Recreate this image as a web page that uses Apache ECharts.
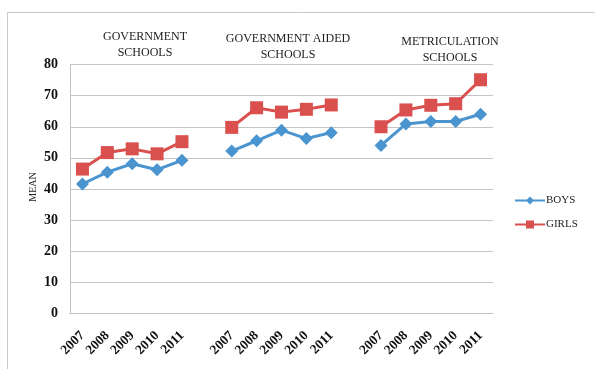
<!DOCTYPE html>
<html>
<head>
<meta charset="utf-8">
<script src="https://cdn.jsdelivr.net/npm/echarts@6/dist/echarts.min.js"></script>
<style>
  html, body { margin: 0; padding: 0; background: #fff; }
  #chart { width: 595px; height: 369px; }
</style>
</head>
<body>
<div id="chart"></div>
<script>
// School groups and years shown under each group
const groups = ['GOVERNMENT\nSCHOOLS', 'GOVERNMENT AIDED\nSCHOOLS', 'METRICULATION\nSCHOOLS'];
const years = ['2007', '2008', '2009', '2010', '2011'];
const yAxisTitle = 'MEAN';

// Mean scores per group, 2007-2011
const boysGov = [41.6, 45.4, 48.1, 46.2, 49.2];
const girlsGov = [46.4, 51.7, 52.9, 51.3, 55.2];
const boysAided = [52.2, 55.5, 58.9, 56.2, 58.1];
const girlsAided = [59.8, 66.1, 64.7, 65.6, 67.0];
const boysMetric = [54.0, 60.9, 61.7, 61.7, 64.0];
const girlsMetric = [60.0, 65.4, 66.9, 67.4, 75.1];

const yTicks = [0, 10, 20, 30, 40, 50, 60, 70, 80];

// Build one continuous category axis with an empty slot between groups
const categories = [];
function joinGroups(parts) {
  const out = [];
  parts.forEach((p, i) => {
    if (i > 0) out.push(null);
    p.forEach(v => out.push(v));
  });
  return out;
}
groups.forEach((g, i) => {
  if (i > 0) categories.push('');
  years.forEach(y => categories.push(y));
});
const boys = joinGroups([boysGov, boysAided, boysMetric]);
const girls = joinGroups([girlsGov, girlsAided, girlsMetric]);

const BLUE = '#4a94d0';
const RED = '#d9504e';
const SERIF = '"Liberation Serif", "DejaVu Serif", serif';

const chart = echarts.init(document.getElementById('chart'), null, { renderer: 'canvas' });
chart.setOption({
  backgroundColor: '#fff',
  animation: false,
  title: [
    { text: groups[0], left: 145, top: 29, textAlign: 'center' },
    { text: groups[1], left: 288, top: 31, textAlign: 'center' },
    { text: groups[2], left: 450, top: 33.5, textAlign: 'center' }
  ].map(t => Object.assign(t, {
    padding: 0,
    textStyle: { fontFamily: SERIF, fontSize: 12, fontWeight: 'normal', color: '#222', lineHeight: 16 }
  })),
  graphic: [
    {
      type: 'rect',
      shape: { x: 7.5, y: 12.5, width: 600, height: 370 },
      style: { fill: 'none', stroke: '#c8c8c8', lineWidth: 1 },
      silent: true
    },
    {
      // vertical axis title
      type: 'text',
      x: 33,
      y: 187,
      rotation: Math.PI / 2,
      style: {
        text: yAxisTitle,
        font: '10px ' + SERIF,
        fill: '#222',
        align: 'center',
        verticalAlign: 'middle'
      },
      silent: true
    }
  ],
  legend: {
    orient: 'vertical',
    left: 509,
    top: 190,
    itemWidth: 30,
    itemHeight: 10,
    itemGap: 13,
    textStyle: { fontFamily: SERIF, fontSize: 11, color: '#222', padding: [0, 0, 0, -4] },
    data: ['BOYS', 'GIRLS']
  },
  grid: { left: 70, right: 102, top: 64.5, bottom: 55.5 },
  xAxis: {
    type: 'category',
    data: categories,
    boundaryGap: true,
    axisLine: { lineStyle: { color: '#c0c0c0' } },
    axisTick: { show: false },
    axisLabel: {
      interval: 0,
      rotate: 45,
      margin: 20,
      fontFamily: SERIF,
      fontSize: 13.5,
      fontWeight: 'bold',
      color: '#111'
    }
  },
  yAxis: {
    type: 'value',
    min: yTicks[0],
    max: yTicks[yTicks.length - 1],
    interval: 10,
    axisLine: { show: true, lineStyle: { color: '#c0c0c0' } },
    axisTick: { show: false },
    splitLine: { lineStyle: { color: '#c4c4c4' } },
    axisLabel: {
      margin: 12,
      fontFamily: SERIF,
      fontSize: 14,
      fontWeight: 'bold',
      color: '#111'
    }
  },
  series: [
    {
      name: 'BOYS',
      type: 'line',
      data: boys,
      connectNulls: false,
      symbol: 'diamond',
      symbolSize: 13,
      lineStyle: { color: BLUE, width: 3 },
      itemStyle: { color: BLUE },
      z: 3
    },
    {
      name: 'GIRLS',
      type: 'line',
      data: girls,
      connectNulls: false,
      symbol: 'rect',
      symbolSize: 13,
      lineStyle: { color: RED, width: 3 },
      itemStyle: { color: RED },
      z: 2
    }
  ]
});
</script>
</body>
</html>
